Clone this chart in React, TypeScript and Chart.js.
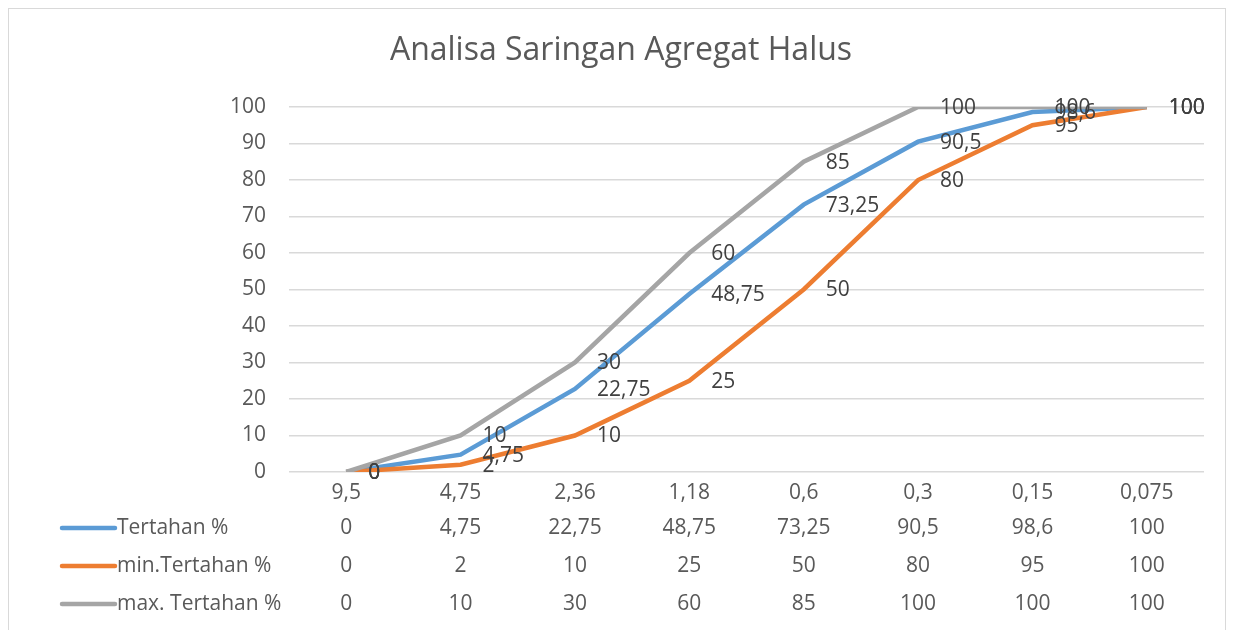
import React, { useEffect, useRef } from "react";
import { Chart, registerables } from "chart.js";

Chart.register(...registerables);

const title = "Analisa Saringan Agregat Halus";
const categories = ["9,5", "4,75", "2,36", "1,18", "0,6", "0,3", "0,15", "0,075"];
const seriesNames = ["Tertahan %", "min.Tertahan %", "max. Tertahan %"];
const tertahan = [0, 4.75, 22.75, 48.75, 73.25, 90.5, 98.6, 100];
const minTertahan = [0, 2, 10, 25, 50, 80, 95, 100];
const maxTertahan = [0, 10, 30, 60, 85, 100, 100, 100];
const yTicks = [0, 10, 20, 30, 40, 50, 60, 70, 80, 90, 100];
const colors = ["#5B9BD5", "#ED7D31", "#A5A5A5"];

const FONT = "'Open Sans', sans-serif";
const fmt = (v: number) => String(v).replace(".", ",");

const labelsPlugin = {
  id: "excelExtras",
  afterDatasetsDraw(chart: any) {
    const ctx = chart.ctx;
    ctx.save();
    ctx.font = `21px ${FONT}`;
    ctx.fillStyle = "#404040";
    ctx.textAlign = "left";
    ctx.textBaseline = "middle";
    chart.data.datasets.forEach((ds: any, i: number) => {
      const meta = chart.getDatasetMeta(i);
      meta.data.forEach((pt: any, j: number) => {
        ctx.fillText(fmt(ds.data[j]), pt.x + 22, pt.y + 1);
      });
    });
    ctx.restore();
  },
  afterDraw(chart: any) {
    const ctx = chart.ctx;
    const xs = chart.scales.x;
    const rowY = [519, 557, 595];
    ctx.save();
    ctx.font = `32px ${FONT}`;
    ctx.fillStyle = "#595959";
    ctx.textAlign = "center";
    ctx.textBaseline = "middle";
    ctx.fillText(title, 612, 42);
    ctx.font = `21px ${FONT}`;
    chart.data.datasets.forEach((ds: any, i: number) => {
      const y = rowY[i];
      ctx.strokeStyle = colors[i];
      ctx.lineWidth = 4.5;
      ctx.lineCap = "round";
      ctx.beginPath();
      ctx.moveTo(53, y);
      ctx.lineTo(106, y);
      ctx.stroke();
      ctx.fillStyle = "#595959";
      ctx.textAlign = "left";
      ctx.fillText(seriesNames[i], 108, y);
      ctx.textAlign = "center";
      ds.data.forEach((v: number, j: number) => {
        ctx.fillText(fmt(v), xs.getPixelForValue(j), y);
      });
    });
    ctx.restore();
  },
};

export default function App() {
  const ref = useRef<HTMLCanvasElement>(null);
  useEffect(() => {
    if (!ref.current) return;
    const chart = new Chart(ref.current, {
      type: "line",
      data: {
        labels: categories,
        datasets: [
          { label: seriesNames[0], data: tertahan, borderColor: colors[0], backgroundColor: colors[0], borderWidth: 4.5, pointRadius: 0, order: 2 },
          { label: seriesNames[1], data: minTertahan, borderColor: colors[1], backgroundColor: colors[1], borderWidth: 4.5, pointRadius: 0, order: 1 },
          { label: seriesNames[2], data: maxTertahan, borderColor: colors[2], backgroundColor: colors[2], borderWidth: 4.5, pointRadius: 0, order: 0 },
        ],
      },
      options: {
        responsive: false,
        animation: false,
        layout: { padding: { left: 0, right: 21, top: 98, bottom: 0 } },
        plugins: {
          legend: { display: false },
          tooltip: { enabled: false },
          title: { display: false },
        },
        scales: {
          x: {
            offset: true,
            grid: { display: false, drawTicks: false, offset: true },
            border: { display: false },
            ticks: { color: "#595959", font: { family: FONT, size: 21 }, padding: 8, maxRotation: 0 },
            afterFit: (s: any) => { s.height = 158; },
          },
          y: {
            min: 0,
            max: 100,
            afterBuildTicks: (s: any) => { s.ticks = yTicks.map((v) => ({ value: v })); },
            grid: { color: "#D9D9D9", lineWidth: 1.5, drawTicks: false },
            border: { display: false },
            ticks: { color: "#595959", font: { family: FONT, size: 21 }, padding: 23 },
            afterFit: (s: any) => { s.width = 280; },
          },
        },
      },
      plugins: [labelsPlugin],
    });
    return () => chart.destroy();
  }, []);
  return (
    <div style={{ border: "1px solid #D9D9D9", width: 1216, height: 640, background: "#fff" }}>
      <canvas ref={ref} width={1216} height={621} style={{ display: "block" }} />
    </div>
  );
}
